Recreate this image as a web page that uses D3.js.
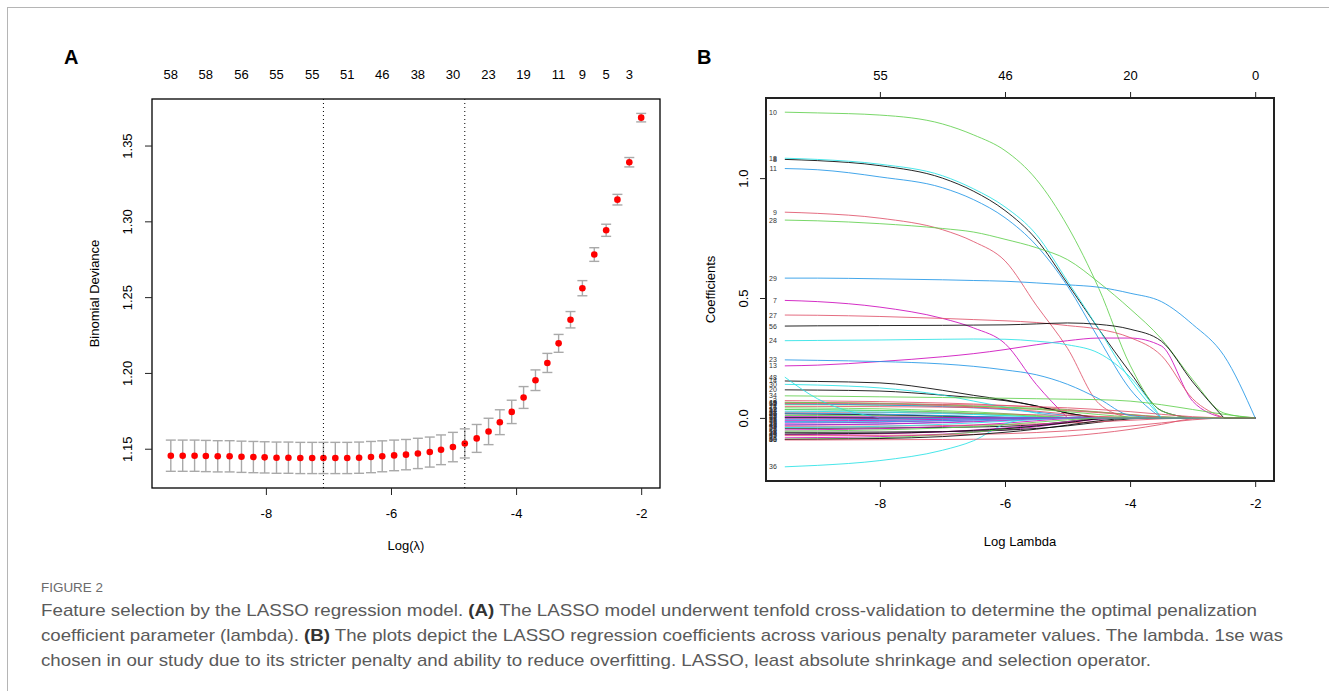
<!DOCTYPE html>
<html>
<head>
<meta charset="utf-8">
<script src="https://cdn.jsdelivr.net/npm/d3@7"></script>
<style>
body { margin: 0; background: #fff; }
svg { display: block; }
text { font-family: "Liberation Sans", Arial, sans-serif; }
</style>
</head>
<body>
<div id="chart"></div>
<script>
// ---- panel A: cross-validation curve ----
var logLambda = [-9.52, -9.33, -9.14, -8.96, -8.77, -8.58, -8.39, -8.20, -8.02, -7.83,
  -7.64, -7.45, -7.26, -7.08, -6.89, -6.70, -6.51, -6.32, -6.14, -5.95,
  -5.76, -5.57, -5.38, -5.20, -5.01, -4.82, -4.63, -4.44, -4.26, -4.07,
  -3.88, -3.69, -3.50, -3.32, -3.13, -2.94, -2.75, -2.56, -2.38, -2.19, -2.00]
var cvMean = [1.1454, 1.1454, 1.1454, 1.1452, 1.1450, 1.1450, 1.1447, 1.1445, 1.1443, 1.1441,
  1.1441, 1.1439, 1.1439, 1.1439, 1.1439, 1.1439, 1.1441, 1.1445, 1.1450, 1.1456,
  1.1461, 1.1469, 1.1478, 1.1493, 1.1511, 1.1535, 1.1568, 1.1614, 1.1675, 1.1743,
  1.1838, 1.1952, 1.2066, 1.2195, 1.2351, 1.2559, 1.2781, 1.2941, 1.3143, 1.3390, 1.3684]
var cvSd = [0.0103, 0.0103, 0.0103, 0.0103, 0.0103, 0.0103, 0.0103, 0.0103, 0.0103, 0.0103,
  0.0103, 0.0103, 0.0103, 0.0103, 0.0103, 0.0103, 0.0103, 0.0103, 0.0102, 0.0101,
  0.0100, 0.0100, 0.0099, 0.0098, 0.0097, 0.0096, 0.0092, 0.0087, 0.0082, 0.0077,
  0.0072, 0.0068, 0.0063, 0.0059, 0.0054, 0.0050, 0.0045, 0.0040, 0.0035, 0.0031, 0.0028]
var nzeroIdx = [0, 3, 6, 9, 12, 15, 18, 21, 24, 27, 30, 33, 35, 37, 39]
var nzeroLab = [58, 58, 56, 55, 55, 51, 46, 38, 30, 23, 19, 11, 9, 5, 3]
var lambdaMinIdx = 13
var lambda1seIdx = 25
var xTicks = [-8, -6, -4, -2]
var yTicksA = [1.15, 1.20, 1.25, 1.30, 1.35]

// ---- panel B: coefficient paths ----
var coefKnots = [-9.52, -9, -8, -7, -6.5, -6, -5.5, -5, -4.5, -4, -3.5, -3, -2.5, -2]
var coefRows = [
  [1,  [-0.004, -0.004, -0.003, -0.001, 0, 0, 0, 0, 0, 0, 0, 0, 0, 0]],
  [2,  [-0.043, -0.043, -0.042, -0.040, -0.038, -0.035, -0.028, -0.015, -0.002, 0, 0, 0, 0, 0]],
  [3,  [0.072, 0.071, 0.068, 0.062, 0.058, 0.052, 0.045, 0.035, 0.025, 0.014, 0.004, 0, 0, 0]],
  [4,  [0.055, 0.055, 0.053, 0.050, 0.048, 0.045, 0.040, 0.033, 0.024, 0.014, 0.005, 0, 0, 0]],
  [5,  [0.058, 0.057, 0.054, 0.047, 0.042, 0.035, 0.024, 0.010, 0, 0, 0, 0, 0, 0]],
  [6,  [-0.015, -0.015, -0.012, -0.007, -0.004, -0.001, 0, 0, 0, 0, 0, 0, 0, 0]],
  [7,  [0.490, 0.485, 0.462, 0.415, 0.375, 0.310, 0.140, 0, 0, 0, 0, 0, 0, 0]],
  [8,  [1.078, 1.073, 1.052, 1.000, 0.945, 0.865, 0.745, 0.560, 0.370, 0.190, 0.030, 0, 0, 0]],
  [9,  [0.858, 0.853, 0.833, 0.785, 0.735, 0.655, 0.470, 0.290, 0.060, 0, 0, 0, 0, 0]],
  [10, [1.275, 1.272, 1.263, 1.226, 1.180, 1.115, 0.995, 0.800, 0.540, 0.220, 0.030, 0, 0, 0]],
  [11, [1.040, 1.035, 1.005, 0.960, 0.910, 0.835, 0.720, 0.550, 0.330, 0.120, 0, 0, 0, 0]],
  [12, [0.035, 0.034, 0.030, 0.022, 0.016, 0.010, 0.004, 0, 0, 0, 0, 0, 0, 0]],
  [13, [0.217, 0.220, 0.235, 0.255, 0.268, 0.285, 0.305, 0.322, 0.333, 0.333, 0.300, 0.070, 0, 0]],
  [14, [0.154, 0.152, 0.146, 0.115, 0.094, 0.075, 0.050, 0.020, 0, 0, 0, 0, 0, 0]],
  [15, [0.065, 0.064, 0.060, 0.052, 0.046, 0.038, 0.028, 0.016, 0.005, 0, 0, 0, 0, 0]],
  [16, [0.042, 0.041, 0.038, 0.030, 0.025, 0.018, 0.010, 0.002, 0, 0, 0, 0, 0, 0]],
  [17, [0.003, 0.003, 0.002, 0.001, 0, 0, 0, 0, 0, 0, 0, 0, 0, 0]],
  [18, [1.083, 1.078, 1.058, 1.010, 0.955, 0.880, 0.765, 0.570, 0.370, 0.160, 0, 0, 0, 0]],
  [19, [-0.022, -0.021, -0.018, -0.012, -0.008, -0.004, -0.001, 0, 0, 0, 0, 0, 0, 0]],
  [20, [0.117, 0.116, 0.112, 0.095, 0.085, 0.072, 0.050, 0.020, 0, 0, 0, 0, 0, 0]],
  [21, [0.048, 0.048, 0.047, 0.045, 0.043, 0.040, 0.036, 0.030, 0.022, 0.012, 0.003, 0, 0, 0]],
  [22, [0.010, 0.010, 0.009, 0.006, 0.004, 0.002, 0, 0, 0, 0, 0, 0, 0, 0]],
  [23, [0.242, 0.240, 0.235, 0.225, 0.215, 0.200, 0.180, 0.140, 0.080, 0.010, 0, 0, 0, 0]],
  [24, [0.322, 0.323, 0.325, 0.328, 0.329, 0.328, 0.320, 0.305, 0.270, 0.170, 0, 0, 0, 0]],
  [25, [-0.050, -0.049, -0.045, -0.036, -0.030, -0.022, -0.012, -0.003, 0, 0, 0, 0, 0, 0]],
  [26, [0.017, 0.016, 0.013, 0.008, 0.005, 0.002, 0, 0, 0, 0, 0, 0, 0, 0]],
  [27, [0.429, 0.428, 0.423, 0.415, 0.410, 0.405, 0.398, 0.385, 0.370, 0.335, 0.260, 0.080, 0, 0]],
  [28, [0.825, 0.822, 0.810, 0.790, 0.775, 0.745, 0.710, 0.660, 0.565, 0.455, 0.330, 0.160, 0.020, 0]],
  [29, [0.583, 0.583, 0.580, 0.576, 0.573, 0.570, 0.563, 0.555, 0.545, 0.520, 0.485, 0.390, 0.260, 0]],
  [30, [0.140, 0.137, 0.125, 0.095, 0.070, 0.045, 0.020, 0, 0, 0, 0, 0, 0, 0]],
  [31, [-0.083, -0.082, -0.078, -0.068, -0.060, -0.050, -0.037, -0.020, -0.005, 0, 0, 0, 0, 0]],
  [32, [0.001, 0.001, 0, 0, 0, 0, 0, 0, 0, 0, 0, 0, 0, 0]],
  [33, [0.024, 0.024, 0.023, 0.020, 0.018, 0.016, 0.013, 0.010, 0.006, 0.002, 0, 0, 0, 0]],
  [34, [0.092, 0.091, 0.088, 0.085, 0.083, 0.082, 0.080, 0.078, 0.076, 0.070, 0.055, 0.035, 0.015, 0]],
  [35, [-0.008, -0.008, -0.006, -0.003, -0.001, 0, 0, 0, 0, 0, 0, 0, 0, 0]],
  [36, [-0.204, -0.198, -0.178, -0.135, -0.095, -0.025, 0, 0, 0, 0, 0, 0, 0, 0]],
  [37, [-0.012, -0.012, -0.010, -0.006, -0.003, 0, 0, 0, 0, 0, 0, 0, 0, 0]],
  [38, [-0.060, -0.060, -0.059, -0.057, -0.055, -0.051, -0.044, -0.033, -0.018, -0.004, 0, 0, 0, 0]],
  [39, [-0.035, -0.035, -0.034, -0.032, -0.030, -0.028, -0.025, -0.021, -0.016, -0.010, -0.004, 0, 0, 0]],
  [40, [-0.088, -0.087, -0.083, -0.070, -0.060, -0.047, -0.032, -0.016, -0.003, 0, 0, 0, 0, 0]],
  [41, [-0.029, -0.028, -0.025, -0.018, -0.013, -0.008, -0.003, 0, 0, 0, 0, 0, 0, 0]],
  [42, [0.028, 0.027, 0.024, 0.018, 0.014, 0.009, 0.004, 0, 0, 0, 0, 0, 0, 0]],
  [43, [-0.070, -0.069, -0.066, -0.058, -0.051, -0.042, -0.030, -0.016, -0.004, 0, 0, 0, 0, 0]],
  [44, [-0.067, -0.066, -0.064, -0.058, -0.052, -0.045, -0.034, -0.020, -0.004, 0, 0, 0, 0, 0]],
  [45, [-0.074, -0.074, -0.073, -0.071, -0.069, -0.066, -0.061, -0.054, -0.045, -0.034, -0.021, -0.008, 0, 0]],
  [46, [0.065, 0.064, 0.061, 0.055, 0.050, 0.044, 0.036, 0.026, 0.014, 0.004, 0, 0, 0, 0]],
  [47, [0.020, 0.019, 0.016, 0.010, 0.006, 0.003, 0, 0, 0, 0, 0, 0, 0, 0]],
  [48, [0.170, 0.080, 0, 0, 0, 0, 0, 0, 0, 0, 0, 0, 0, 0]],
  [49, [-0.030, -0.029, -0.026, -0.020, -0.016, -0.011, -0.006, -0.001, 0, 0, 0, 0, 0, 0]],
  [50, [-0.090, -0.089, -0.086, -0.078, -0.070, -0.060, -0.047, -0.030, -0.012, 0, 0, 0, 0, 0]],
  [51, [-0.092, -0.092, -0.091, -0.090, -0.089, -0.088, -0.084, -0.076, -0.064, -0.048, -0.027, -0.004, 0, 0]],
  [52, [0.035, 0.034, 0.031, 0.025, 0.020, 0.014, 0.007, 0.001, 0, 0, 0, 0, 0, 0]],
  [53, [-0.018, -0.018, -0.016, -0.011, -0.008, -0.004, -0.001, 0, 0, 0, 0, 0, 0, 0]],
  [54, [-0.040, -0.039, -0.035, -0.027, -0.021, -0.014, -0.007, -0.001, 0, 0, 0, 0, 0, 0]],
  [55, [0.005, 0.005, 0.004, 0.002, 0.001, 0, 0, 0, 0, 0, 0, 0, 0, 0]],
  [56, [0.383, 0.384, 0.385, 0.386, 0.387, 0.388, 0.392, 0.396, 0.390, 0.370, 0.320, 0.150, 0, 0]],
  [57, [0.060, 0.060, 0.058, 0.056, 0.054, 0.051, 0.047, 0.042, 0.035, 0.026, 0.015, 0.005, 0, 0]],
  [58, [-0.055, -0.054, -0.050, -0.042, -0.036, -0.028, -0.018, -0.008, 0, 0, 0, 0, 0, 0]]
]
var dfTicks = [55, 46, 20, 0]
var yTicksB = [0, 0.5, 1.0]
// R default palette, picked by variable number mod 6
var pathColors = ['#28E2E5', '#CD0BBC', '#000000', '#DF536B', '#61D04F', '#2297E6']

var captionLines = [
  [['Feature selection by the LASSO regression model. ', false], ['(A)', true], [' The LASSO model underwent tenfold cross-validation to determine the optimal penalization', false]],
  [['coefficient parameter (lambda). ', false], ['(B)', true], [' The plots depict the LASSO regression coefficients across various penalty parameter values. The lambda. 1se was', false]],
  [['chosen in our study due to its stricter penalty and ability to reduce overfitting. LASSO, least absolute shrinkage and selection operator.', false]]
]
var captionWidths = [1216, 1242, 1110]

// R pads the data range by 4% on each side
var pad4 = (ext) => { var r = ext[1] - ext[0]; return [ext[0] - 0.04 * r, ext[1] + 0.04 * r] }

var svg = d3.select('#chart').append('svg')
  .attr('width', 1329)
  .attr('height', 691)

// page frame
svg.append('line').attr('x1', 7).attr('x2', 1329).attr('y1', 7.5).attr('y2', 7.5).attr('stroke', '#b5b5b5')
svg.append('line').attr('x1', 7.5).attr('x2', 7.5).attr('y1', 7).attr('y2', 691).attr('stroke', '#b5b5b5')

// ================= PANEL A =================
var boxA = {left: 152, right: 660, top: 99, bottom: 488}
var xA = d3.scaleLinear().domain(pad4(d3.extent(logLambda))).range([boxA.left, boxA.right])
var lo = cvMean.map((m, i) => m - cvSd[i])
var hi = cvMean.map((m, i) => m + cvSd[i])
var yA = d3.scaleLinear().domain(pad4([d3.min(lo), d3.max(hi)])).range([boxA.bottom, boxA.top])

var gA = svg.append('g')

// error bars
var bars = gA.append('g').attr('stroke', '#a9a9a9').attr('stroke-width', 1.4)
logLambda.forEach((l, i) => {
  var x = xA(l)
  bars.append('line').attr('x1', x).attr('x2', x).attr('y1', yA(lo[i])).attr('y2', yA(hi[i]))
  bars.append('line').attr('x1', x - 5).attr('x2', x + 5).attr('y1', yA(lo[i])).attr('y2', yA(lo[i]))
  bars.append('line').attr('x1', x - 5).attr('x2', x + 5).attr('y1', yA(hi[i])).attr('y2', yA(hi[i]))
})

gA.append('g').selectAll('circle')
  .data(logLambda)
  .enter()
    .append('circle')
    .attr('cx', (d) => xA(d))
    .attr('cy', (d, i) => yA(cvMean[i]))
    .attr('r', 3.3)
    .attr('fill', '#ff0000')

// lambda.min and lambda.1se
;[lambdaMinIdx, lambda1seIdx].forEach((idx) => {
  gA.append('line')
    .attr('x1', xA(logLambda[idx])).attr('x2', xA(logLambda[idx]))
    .attr('y1', boxA.top).attr('y2', boxA.bottom)
    .attr('stroke', '#000').attr('stroke-width', 1)
    .attr('stroke-dasharray', '1,3')
})

gA.append('rect')
  .attr('x', boxA.left).attr('y', boxA.top)
  .attr('width', boxA.right - boxA.left).attr('height', boxA.bottom - boxA.top)
  .attr('fill', 'none').attr('stroke', '#000').attr('stroke-width', 1.3)

var axA = gA.append('g')
  .attr('transform', 'translate(0,' + boxA.bottom + ')')
  .call(d3.axisBottom(xA).tickValues(xTicks).tickSize(7).tickPadding(14).tickFormat((d) => String(d)))
axA.select('.domain').remove()

var ayA = gA.append('g')
  .attr('transform', 'translate(' + boxA.left + ',0)')
  .call(d3.axisLeft(yA).tickValues(yTicksA).tickSize(7).tickFormat(d3.format('.2f')))
ayA.select('.domain').remove()
ayA.selectAll('text')
  .attr('x', null).attr('dy', null)
  .attr('text-anchor', 'middle')
  .attr('transform', 'translate(-20,0) rotate(-90)')

// number of nonzero coefficients along the top
gA.append('g').selectAll('text')
  .data(nzeroIdx)
  .enter()
    .append('text')
    .attr('x', (d) => xA(logLambda[d]))
    .attr('y', 79)
    .attr('text-anchor', 'middle')
    .attr('font-size', 13)
    .text((d, i) => nzeroLab[i])

gA.append('text')
  .attr('transform', 'translate(99,' + ((boxA.top + boxA.bottom) / 2) + ') rotate(-90)')
  .attr('text-anchor', 'middle').attr('font-size', 13)
  .text('Binomial Deviance')
gA.append('text')
  .attr('x', (boxA.left + boxA.right) / 2).attr('y', 550)
  .attr('text-anchor', 'middle').attr('font-size', 13)
  .text('Log(λ)')

svg.append('text').attr('x', 64).attr('y', 64).attr('font-size', 20).attr('font-weight', 'bold').text('A')

// ================= PANEL B =================
var boxB = {left: 766, right: 1274, top: 98, bottom: 481}
var xB = d3.scaleLinear().domain(pad4(d3.extent(logLambda))).range([boxB.left, boxB.right])
var allCoef = [].concat(...coefRows.map((r) => r[1]))
var yB = d3.scaleLinear().domain(pad4(d3.extent(allCoef))).range([boxB.bottom, boxB.top])

var gB = svg.append('g')

// smooth while the coefficient is active, straight along zero once it drops out
var activeLine = d3.line()
  .x((d) => xB(d[0]))
  .y((d) => yB(d[1]))
  .curve(d3.curveMonotoneX)
var zeroLine = d3.line()
  .x((d) => xB(d[0]))
  .y((d) => yB(d[1]))

function pathFor(vals) {
  var k = vals.length - 1
  while (k > 0 && vals[k - 1] === 0) k--
  var pts = vals.map((v, i) => [coefKnots[i], v])
  var d = activeLine(pts.slice(0, k + 1))
  if (k < vals.length - 1) d += zeroLine(pts.slice(k)).replace(/^M/, 'L')
  return d
}

gB.append('g').selectAll('path')
  .data(coefRows)
  .enter()
    .append('path')
    .attr('d', (d) => pathFor(d[1]))
    .attr('fill', 'none')
    .attr('stroke', (d) => pathColors[d[0] % 6])
    .attr('stroke-width', 1)
    .attr('stroke-opacity', 0.85)

// variable labels at the left end (they overlap, as in R)
gB.append('g').selectAll('text')
  .data(coefRows)
  .enter()
    .append('text')
    .attr('x', xB(coefKnots[0]) - 8)
    .attr('y', (d) => yB(d[1][0]) + 2.5)
    .attr('text-anchor', 'end')
    .attr('font-size', 7)
    .attr('fill', '#333')
    .text((d) => d[0])

gB.append('rect')
  .attr('x', boxB.left).attr('y', boxB.top)
  .attr('width', boxB.right - boxB.left).attr('height', boxB.bottom - boxB.top)
  .attr('fill', 'none').attr('stroke', '#222').attr('stroke-width', 2)

var axB = gB.append('g')
  .attr('transform', 'translate(0,' + boxB.bottom + ')')
  .call(d3.axisBottom(xB).tickValues(xTicks).tickSize(6).tickPadding(12).tickFormat((d) => String(d)))
axB.select('.domain').remove()

var atB = gB.append('g')
  .attr('transform', 'translate(0,' + boxB.top + ')')
  .call(d3.axisTop(xB).tickValues(xTicks).tickSize(6).tickPadding(12).tickFormat((d, i) => dfTicks[i]))
atB.select('.domain').remove()

var ayB = gB.append('g')
  .attr('transform', 'translate(' + boxB.left + ',0)')
  .call(d3.axisLeft(yB).tickValues(yTicksB).tickSize(6).tickFormat(d3.format('.1f')))
ayB.select('.domain').remove()
ayB.selectAll('text')
  .attr('x', null).attr('dy', null)
  .attr('text-anchor', 'middle')
  .attr('transform', 'translate(-18,0) rotate(-90)')

gB.append('text')
  .attr('transform', 'translate(715,' + ((boxB.top + boxB.bottom) / 2) + ') rotate(-90)')
  .attr('text-anchor', 'middle').attr('font-size', 13)
  .text('Coefficients')
gB.append('text')
  .attr('x', (boxB.left + boxB.right) / 2).attr('y', 546)
  .attr('text-anchor', 'middle').attr('font-size', 13)
  .text('Log Lambda')

svg.selectAll('.tick text').attr('font-size', 13).attr('font-family', '"Liberation Sans", Arial, sans-serif').attr('fill', '#000')
svg.selectAll('.tick line').attr('stroke', '#222')

svg.append('text').attr('x', 697).attr('y', 64).attr('font-size', 20).attr('font-weight', 'bold').text('B')

// ================= CAPTION =================
svg.append('text')
  .attr('x', 41).attr('y', 592)
  .attr('font-family', 'Lato, "Open Sans", sans-serif')
  .attr('font-size', 13).attr('fill', '#6b6b6b')
  .attr('textLength', 62).attr('lengthAdjust', 'spacingAndGlyphs')
  .text('FIGURE 2')

captionLines.forEach((parts, li) => {
  var t = svg.append('text')
    .attr('x', 41).attr('y', 616 + li * 25)
    .attr('font-family', 'Lato, "Open Sans", sans-serif')
    .attr('font-size', 17).attr('fill', '#5a5a5a')
    .attr('textLength', captionWidths[li]).attr('lengthAdjust', 'spacingAndGlyphs')
  parts.forEach((p) => {
    t.append('tspan')
      .attr('font-weight', p[1] ? 'bold' : null)
      .attr('fill', p[1] ? '#333' : null)
      .text(p[0])
  })
})
</script>
</body>
</html>
